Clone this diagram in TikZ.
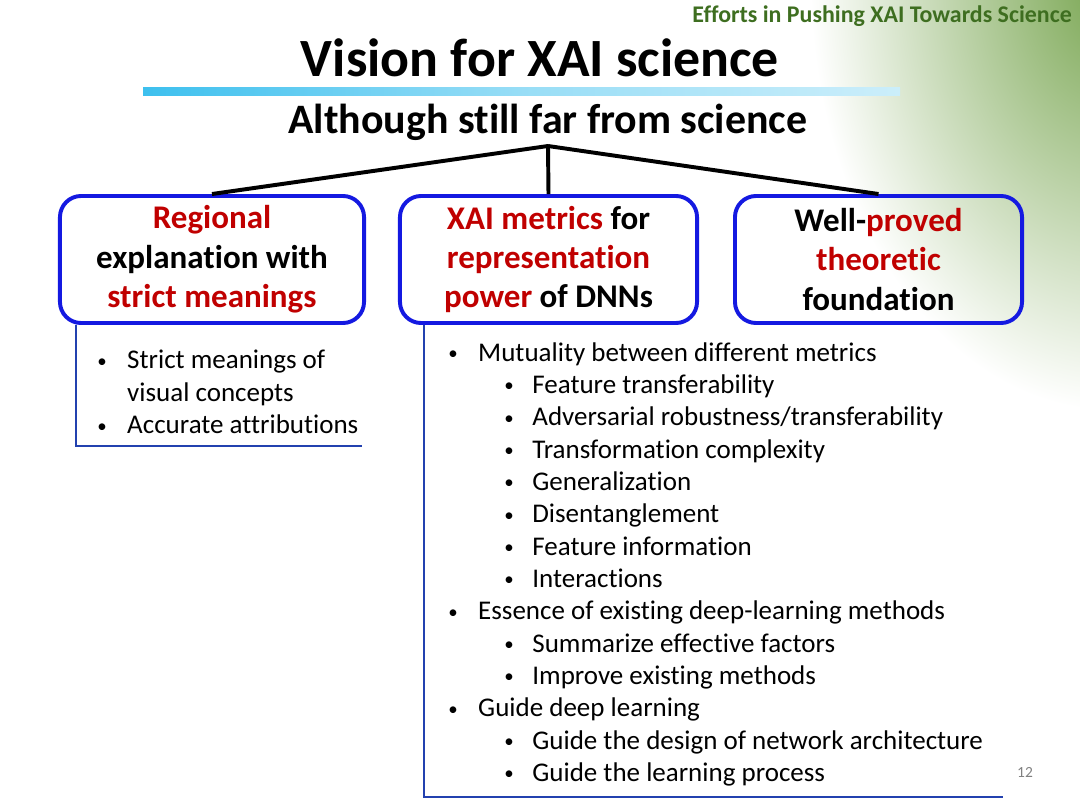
\documentclass[tikz,border=0pt]{standalone}
\usepackage{fontspec}
\setmainfont{Carlito}[Ligatures=NoCommon]
\usepackage{xcolor}
\usepackage{tikz}
\usetikzlibrary{positioning, calc}

\definecolor{boxblue}{RGB}{20,25,225}
\definecolor{linkblue}{RGB}{35,65,175}
\definecolor{darkred}{RGB}{192,0,0}
\definecolor{headgreen}{RGB}{62,110,32}
\definecolor{fadegreen}{RGB}{120,165,80}
\definecolor{barblue}{RGB}{40,100,180}
\definecolor{barcyan}{RGB}{25,180,235}

\pgfdeclarehorizontalshading{titlebar}{100bp}{color(0bp)=(barblue); color(15bp)=(barcyan); color(50bp)=(barcyan!45); color(100bp)=(white)}

\newcommand{\hilite}[1]{\textcolor{darkred}{#1}}
\newcommand{\dotmark}{\raisebox{0.12ex}{\scalebox{0.7}{\textbullet}}}
\newcommand{\itemA}[1]{\makebox[21.3pt][l]{\dotmark}#1}
\newcommand{\itemB}[1]{\hspace{39.8pt}\makebox[20pt][l]{\dotmark}#1}

\tikzset{
  goal/.style={draw=boxblue, line width=2.8pt, rounded corners=15pt, align=center,
    minimum height=3.175cm, inner sep=0pt, font=\fontsize{23.5}{28}\selectfont\bfseries},
  link/.style={line width=2.8pt},
  bracket/.style={draw=linkblue, line width=1.8pt},
  points/.style={anchor=north west, align=left, inner sep=0pt, font=\fontsize{19.2}{23}\selectfont}
}

\begin{document}
\begin{tikzpicture}[x=0.025cm, y=-0.025cm]
        \useasboundingbox (0,0) rectangle (1080,810);

        % Green corner
        \begin{scope}
          \clip (0,0) rectangle (1080,810);
          \shade[inner color=fadegreen, outer color=white] (1110,-20) ellipse (300 and 430);
        \end{scope}
        \node[anchor=north east, inner sep=0pt, text=headgreen, font=\fontsize{17}{20}\selectfont\bfseries] (header) at (1072,5) {Efforts in Pushing XAI Towards Science};

        % Title
        \node[anchor=base, inner sep=0pt, font=\fontsize{38.3}{44}\selectfont\bfseries] (title) at (540,76) {Vision for XAI science};
        \shade[shading=titlebar] (143,87) rectangle (900,95);
        \node[anchor=base, inner sep=0pt, font=\fontsize{29.8}{34}\selectfont\bfseries] (root) at (548,133) {Although still far from science};
        \coordinate (apex) at (548,146);

        % Three goals
        \node[goal, minimum width=7.6cm] (regional) at (212,259.5) {\hilite{Regional}\\ explanation with\\ \hilite{strict meanings}};
        \node[goal, minimum width=7.425cm] (metrics) at (548.5,259.5) {\hilite{XAI metrics} for\\ \hilite{representation}\\ \hilite{power} of DNNs};
        \node[goal, minimum width=7.175cm] (theory) at (878.5,259.5) {Well-\hilite{proved}\\ \hilite{theoretic}\\ foundation};

        \draw[link] (apex) -- (regional.north);
        \draw[link] (apex) -- (metrics.north);
        \draw[link] (apex) -- (theory.north);

        % Lists under the goals
        \coordinate (regend) at (362,446);
        \draw[bracket] ($(regional.south west)+(18,0)$) |- (regend);
        \node[points] (reglist) at (97,350) {\itemA{Strict meanings of}\\ \hspace{21.3pt}visual concepts\\ \itemA{Accurate attributions}};

        \coordinate (metend) at (1003,797);
        \draw[bracket] ($(metrics.south west)+(26,0)$) |- (metend);
        \node[points] (metlist) at (448,342) {\itemA{Mutuality between different metrics}\\
          \itemB{Feature transferability}\\
          \itemB{Adversarial robustness/transferability}\\
          \itemB{Transformation complexity}\\
          \itemB{Generalization}\\
          \itemB{Disentanglement}\\
          \itemB{Feature information}\\
          \itemB{Interactions}\\
          \itemA{Essence of existing deep-learning methods}\\
          \itemB{Summarize effective factors}\\
          \itemB{Improve existing methods}\\
          \itemA{Guide deep learning}\\
          \itemB{Guide the design of network architecture}\\
          \itemB{Guide the learning process}};

        \node[inner sep=0pt, text=gray, font=\fontsize{11}{13}\selectfont] (pagenum) at (1025,772) {12};
      \end{tikzpicture}
\end{document}
